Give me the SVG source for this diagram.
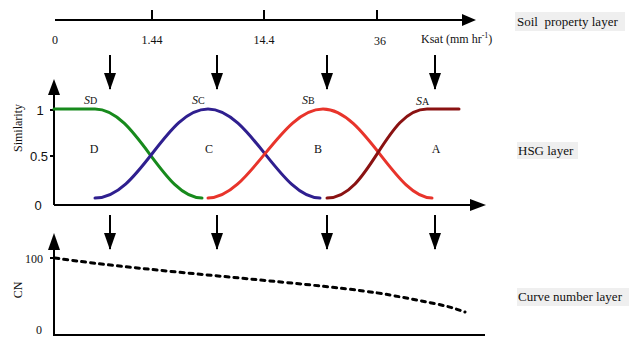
<svg xmlns="http://www.w3.org/2000/svg" width="629" height="337" viewBox="0 0 629 337">
<style>
.ax{stroke:#000;stroke-width:2;fill:none}
.ah{fill:#000}
.t{font-family:"Liberation Serif","Times New Roman",serif;font-size:12px;fill:#111}
.s{font-family:"Liberation Sans",Arial,sans-serif;font-size:13px;fill:#111}
.lay{font-family:"Liberation Serif","Times New Roman",serif;font-size:13px;fill:#111;white-space:pre}
.bg{fill:#efefef}
.cv{fill:none;stroke-width:3;stroke-linecap:round}
.dn{stroke:#000;stroke-width:2}
</style>
<defs>
<marker id="dh" viewBox="0 0 17 12" refX="16" refY="6" markerWidth="17" markerHeight="12" markerUnits="userSpaceOnUse" orient="auto">
<path d="M0,0 L17,6 L0,12 Z" fill="#000"/>
</marker>
</defs>

<g id="soil-axis">
<line class="ax" x1="55" y1="20" x2="465" y2="20"/>
<path class="ah" d="M462,14 L476,20 L462,26 Z"/>
<line class="ax" x1="152" y1="10" x2="152" y2="20"/>
<line class="ax" x1="264" y1="10" x2="264" y2="20"/>
<line class="ax" x1="377" y1="10" x2="377" y2="20"/>
<text class="t" font-size="13" x="55" y="44" text-anchor="middle">0</text>
<text class="t" font-size="13" x="152" y="44" text-anchor="middle">1.44</text>
<text class="t" font-size="13" x="264" y="44" text-anchor="middle">14.4</text>
<text class="t" font-size="13" x="380" y="45" text-anchor="middle">36</text>
<text class="t" font-size="13" x="421" y="43">Ksat (mm hr<tspan font-size="8" dy="-5">-1</tspan><tspan dy="5">)</tspan></text>
</g>

<g id="soil-label">
<rect class="bg" x="515" y="12" width="110" height="19"/>
<text class="lay" x="517" y="26">Soil  property layer</text>
</g>

<g id="hsg-axes">
<line class="ax" x1="54" y1="92" x2="54" y2="205"/>
<path class="ah" d="M48,95 L54,79 L60,95 Z"/>
<line class="ax" x1="54" y1="205" x2="472" y2="205"/>
<path class="ah" d="M470,199 L486,205 L470,211 Z"/>
<line class="ax" x1="50" y1="110" x2="54" y2="110"/>
<line class="ax" x1="50" y1="156" x2="54" y2="156"/>
<text class="s" x="40" y="115" text-anchor="middle">1</text>
<text class="s" x="39" y="161" text-anchor="middle">0.5</text>
<text class="s" x="38" y="210" text-anchor="middle">0</text>
<text class="t" font-size="13" transform="translate(22,128) rotate(-90)" text-anchor="middle">Similarity</text>
</g>

<g id="hsg-curves">
<path class="cv" stroke="#178a1c" d="M54,109 L95,109 C137,109 162,198 202,198"/>
<path class="cv" stroke="#2f1f8f" d="M95,198 C140,198 165,109 208,109 C250,109 280,198 320,198"/>
<path class="cv" stroke="#e8342b" d="M208,198 C250,198 280,109 323,109 C365,109 395,198 432,198"/>
<path class="cv" stroke="#8a1212" d="M327,198 C370,198 385,109 427,109 L459,109"/>
</g>

<g id="hsg-labels">
<text class="t" x="84" y="104" font-size="14"><tspan font-style="italic">S</tspan><tspan font-size="10">D</tspan></text>
<text class="t" x="192" y="104" font-size="14"><tspan font-style="italic">S</tspan><tspan font-size="10">C</tspan></text>
<text class="t" x="302" y="104" font-size="14"><tspan font-style="italic">S</tspan><tspan font-size="10">B</tspan></text>
<text class="t" x="416" y="105" font-size="14"><tspan font-style="italic">S</tspan><tspan font-size="10">A</tspan></text>
<text class="t" x="94" y="153" font-size="13" text-anchor="middle">D</text>
<text class="t" x="209" y="153" font-size="13" text-anchor="middle">C</text>
<text class="t" x="318" y="153" font-size="13" text-anchor="middle">B</text>
<text class="t" x="436" y="153" font-size="13" text-anchor="middle">A</text>
</g>

<g id="hsg-label">
<rect class="bg" x="517" y="142" width="61" height="17"/>
<text class="lay" x="518" y="155">HSG layer</text>
</g>

<g id="cn-axes">
<line class="ax" x1="54" y1="246" x2="54" y2="336"/>
<path class="ah" d="M48,250 L54,233 L60,250 Z"/>
<line class="ax" x1="53" y1="335" x2="485" y2="335"/>
<line class="ax" x1="50" y1="258" x2="54" y2="258"/>
<text class="t" font-size="13" x="43" y="263" text-anchor="end">100</text>
<text class="t" x="39" y="334" text-anchor="middle">0</text>
<text class="t" font-size="13" transform="translate(22,290) rotate(-90)" text-anchor="middle">CN</text>
<path d="M55,258 C150,272 330,284 390,295 S450,307 465,312" fill="none" stroke="#000" stroke-width="3" stroke-dasharray="4 5" stroke-linecap="round"/>
</g>

<g id="cn-label">
<rect class="bg" x="517" y="288" width="112" height="18"/>
<text class="lay" x="518" y="301">Curve number layer</text>
</g>

<g id="connectors">
<line class="dn" x1="110" y1="55" x2="110" y2="89" marker-end="url(#dh)"/>
<line class="dn" x1="217" y1="55" x2="217" y2="89" marker-end="url(#dh)"/>
<line class="dn" x1="327" y1="55" x2="327" y2="89" marker-end="url(#dh)"/>
<line class="dn" x1="435" y1="55" x2="435" y2="89" marker-end="url(#dh)"/>
<line class="dn" x1="110" y1="215" x2="110" y2="249" marker-end="url(#dh)"/>
<line class="dn" x1="217" y1="215" x2="217" y2="249" marker-end="url(#dh)"/>
<line class="dn" x1="327" y1="215" x2="327" y2="249" marker-end="url(#dh)"/>
<line class="dn" x1="435" y1="215" x2="435" y2="249" marker-end="url(#dh)"/>
</g>
</svg>
